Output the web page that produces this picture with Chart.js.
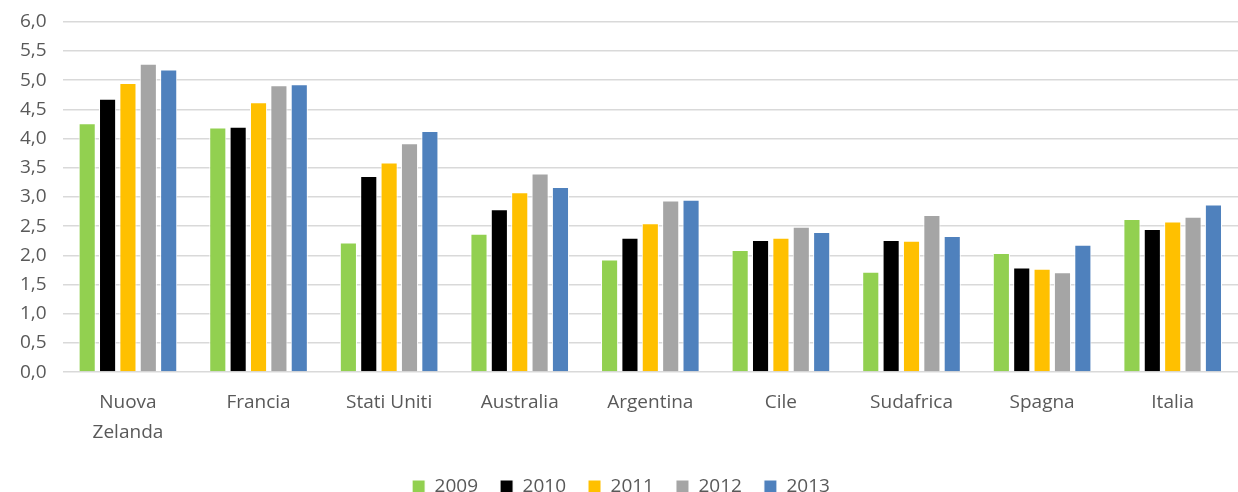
<!DOCTYPE html>
<html>
<head>
<meta charset="utf-8">
<script src="https://cdn.jsdelivr.net/npm/chart.js@4/dist/chart.umd.min.js"></script>
<style>
  html, body { margin: 0; padding: 0; background: #fff; }
  #wrap { width: 1238px; height: 492px; }
</style>
</head>
<body>
<div id="wrap"><canvas id="grafico"></canvas></div>
<script>
// categorie (paesi)
var paesi = [['Nuova', 'Zelanda'], 'Francia', 'Stati Uniti', 'Australia', 'Argentina', 'Cile', 'Sudafrica', 'Spagna', 'Italia'];

// valori per anno
var anni = ['2009', '2010', '2011', '2012', '2013'];
var v2009 = [4.26, 4.19, 2.22, 2.37, 1.93, 2.09, 1.72, 2.04, 2.62];
var v2010 = [4.68, 4.20, 3.36, 2.79, 2.30, 2.26, 2.26, 1.79, 2.45];
var v2011 = [4.95, 4.62, 3.59, 3.08, 2.55, 2.30, 2.25, 1.77, 2.58];
var v2012 = [5.28, 4.91, 3.92, 3.40, 2.94, 2.49, 2.69, 1.71, 2.66];
var v2013 = [5.18, 4.93, 4.13, 3.17, 2.95, 2.40, 2.33, 2.18, 2.87];

var colori = ['#92D050', '#000000', '#FFC000', '#A5A5A5', '#4F81BD'];
var serie = [v2009, v2010, v2011, v2012, v2013];

var datasets = anni.map(function (anno, i) {
  return {
    label: anno,
    data: serie[i],
    backgroundColor: colori[i],
    borderColor: '#ffffff',
    borderWidth: 1,
    categoryPercentage: 0.78,
    barPercentage: 0.84
  };
});

// legenda più bassa: accorcia l'altezza del riquadro
var legendaBassa = {
  id: 'legendaBassa',
  beforeInit: function (chart) {
    var fitOrig = chart.legend.fit;
    chart.legend.fit = function () {
      fitOrig.bind(chart.legend)();
      this.height -= 14;
    };
  }
};

var ctx = document.getElementById('grafico').getContext('2d');
var grafico = new Chart(ctx, {
  type: 'bar',
  data: { labels: paesi, datasets: datasets },
  plugins: [legendaBassa],
  options: {
    responsive: true,
    maintainAspectRatio: false,
    animation: false,
    layout: { padding: { top: 16, right: 0, left: 4, bottom: 0 } },
    scales: {
      x: {
        grid: { display: false },
        border: { display: false },
        ticks: {
          color: '#595959',
          font: { family: 'Open Sans', size: 19, lineHeight: 1.55 },
          padding: 8,
          maxRotation: 0,
          autoSkip: false
        }
      },
      y: {
        min: 0,
        max: 6,
        ticks: {
          stepSize: 0.5,
          color: '#595959',
          font: { family: 'Open Sans', size: 19, lineHeight: 0.6 },
          padding: 16,
          callback: function (v) { return v.toFixed(1).replace('.', ','); }
        },
        grid: { color: '#d9d9d9', lineWidth: 1.5, drawTicks: false },
        border: { display: false }
      }
    },
    plugins: {
      legend: {
        position: 'bottom',
        labels: {
          color: '#595959',
          font: { family: 'Open Sans', size: 19 },
          boxWidth: 13,
          boxHeight: 13,
          padding: 22
        }
      },
      tooltip: { enabled: false }
    }
  }
});
</script>
</body>
</html>
